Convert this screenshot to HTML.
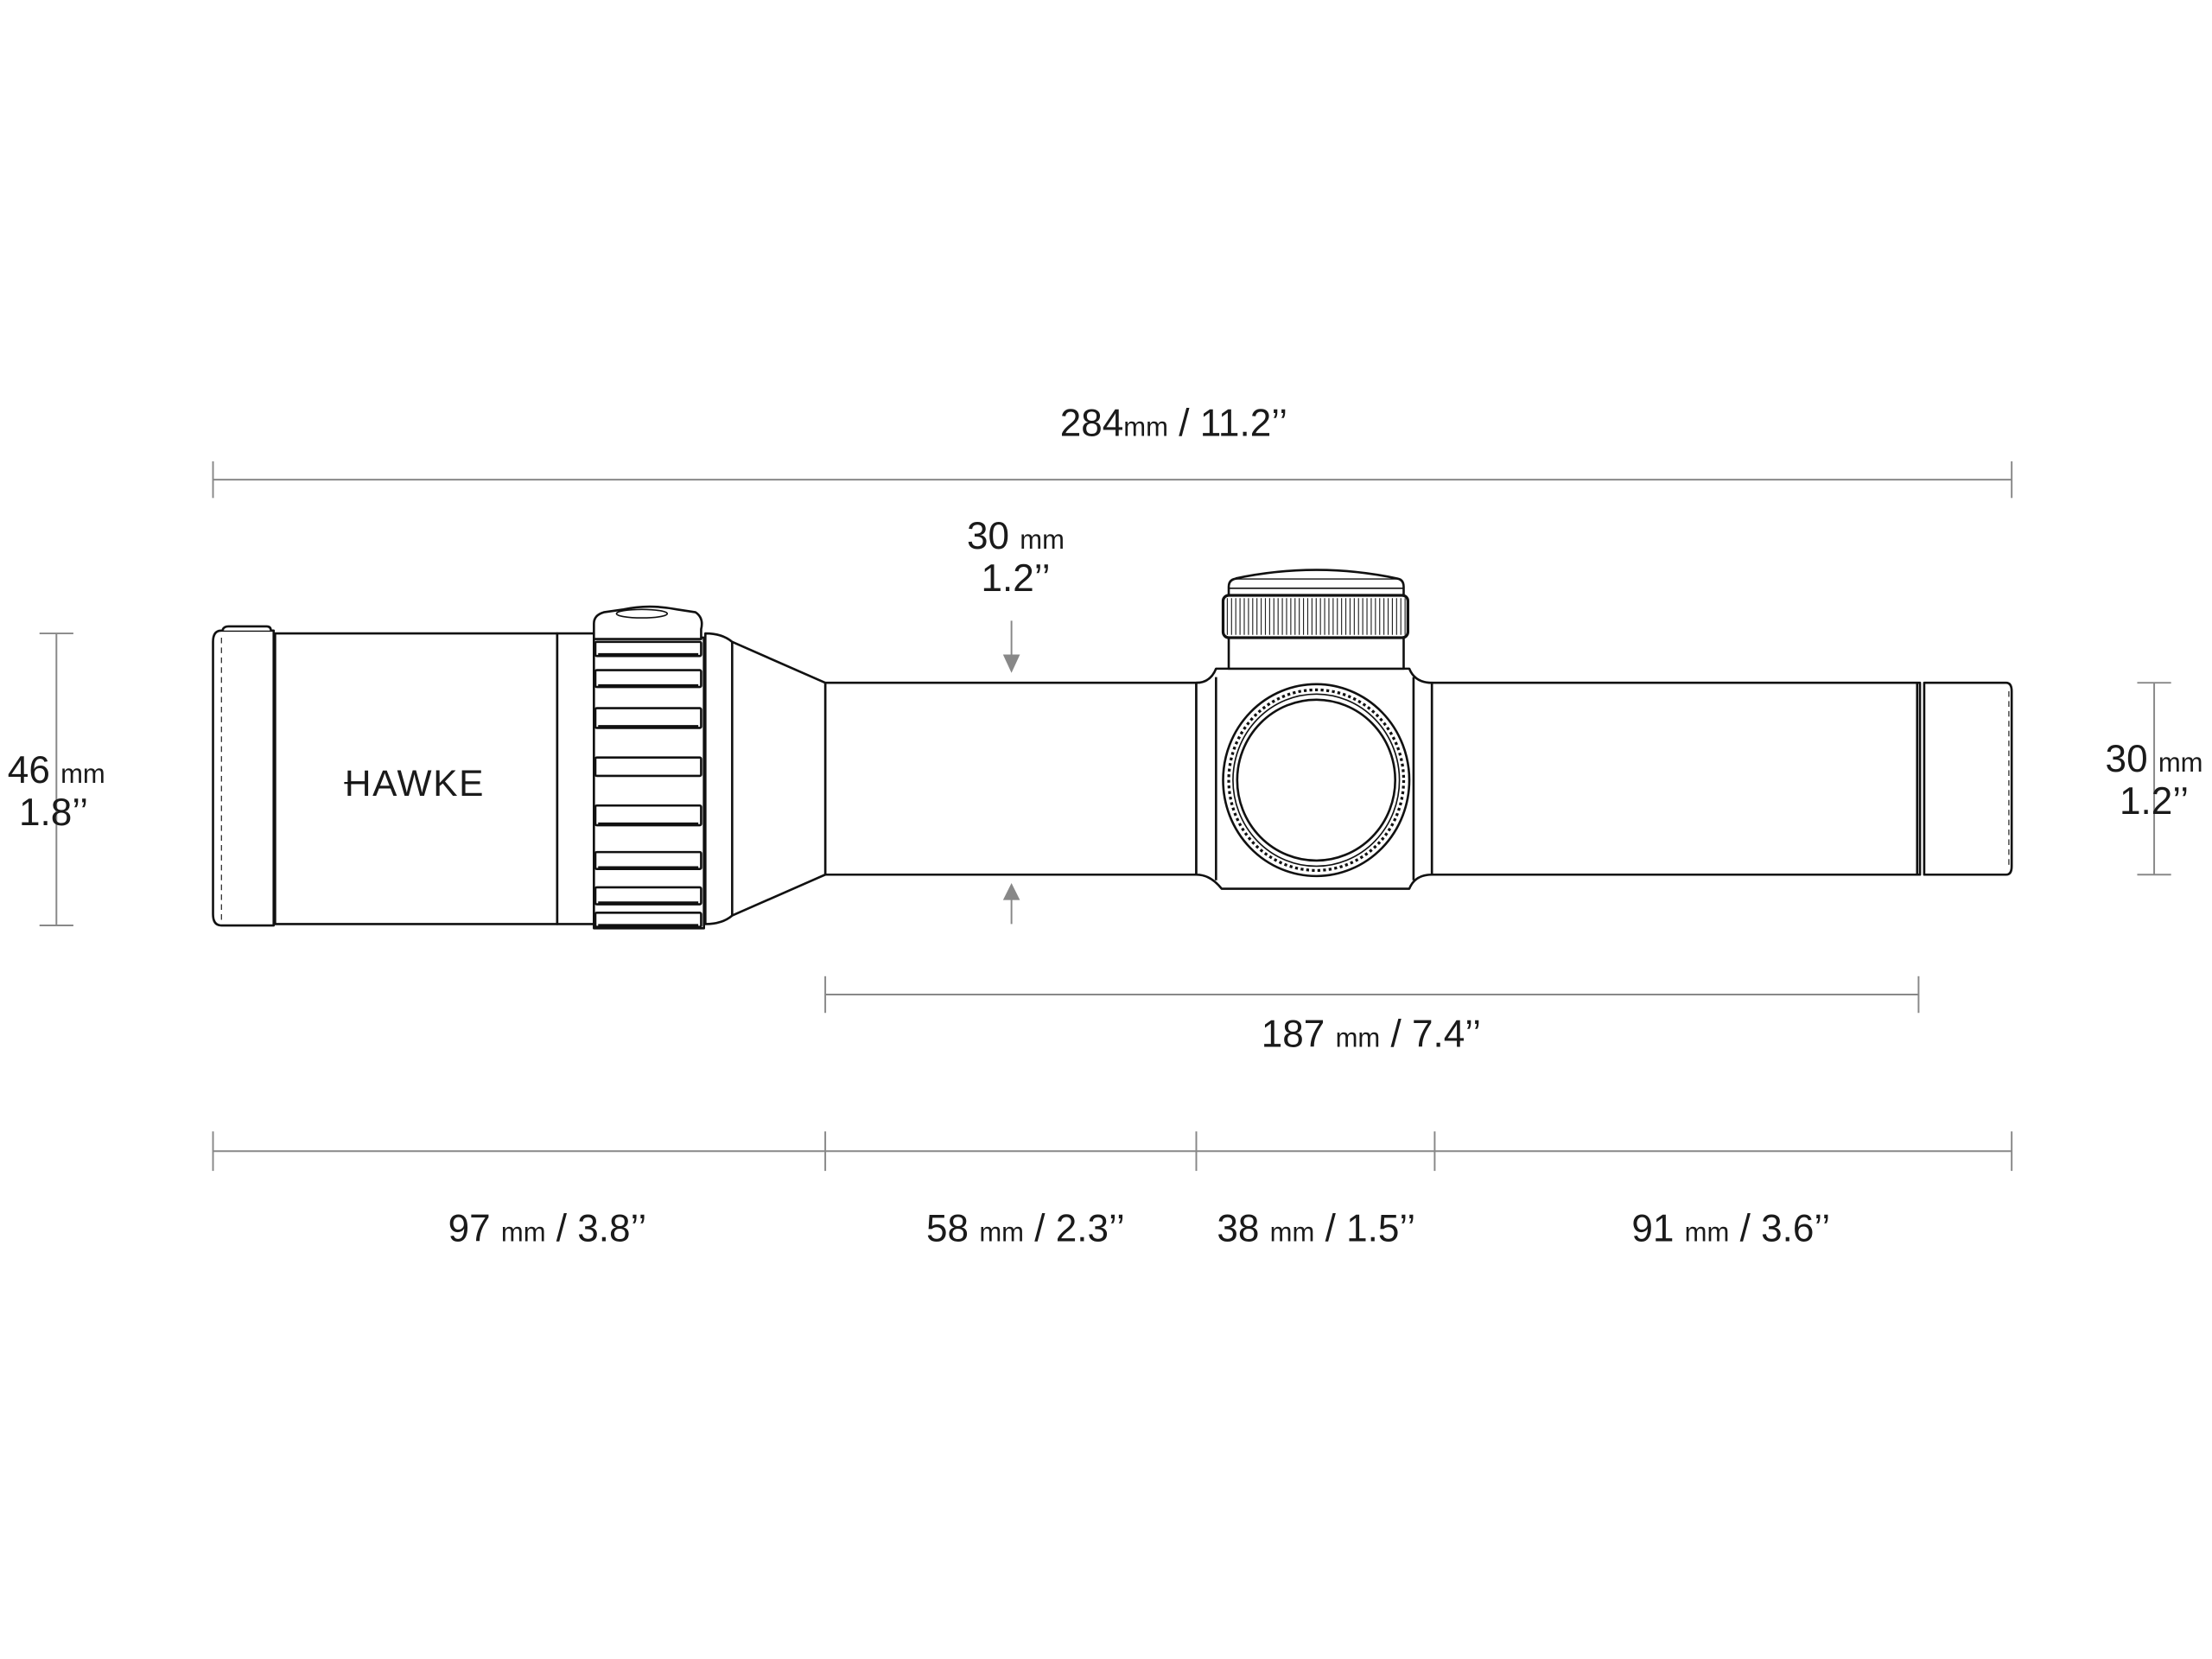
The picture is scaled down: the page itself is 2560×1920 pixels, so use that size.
<!DOCTYPE html>
<html><head><meta charset="utf-8"><style>
html,body{margin:0;padding:0;background:#fff;}
svg{display:block;}
text{font-family:"Liberation Sans Narrow","Liberation Sans",sans-serif;fill:#1a1a1a;}
.d{stroke:#888;stroke-width:1.2;fill:none;}
.o{stroke:#111;stroke-width:1.6;fill:#fff;stroke-linejoin:round;}
.t{stroke:#111;stroke-width:1;fill:none;}
</style></head><body>
<svg width="2560" height="1920" viewBox="0 0 1568 1176" xmlns="http://www.w3.org/2000/svg">
<!-- dimension lines -->
<g class="d">
<line x1="151" y1="340" x2="1426" y2="340"/><line x1="151" y1="327" x2="151" y2="353"/><line x1="1426" y1="327" x2="1426" y2="353"/>
<line x1="40" y1="449" x2="40" y2="656"/><line x1="28" y1="449" x2="52" y2="449"/><line x1="28" y1="656" x2="52" y2="656"/>
<line x1="1527" y1="484" x2="1527" y2="620"/><line x1="1515" y1="484" x2="1539" y2="484"/><line x1="1515" y1="620" x2="1539" y2="620"/>
<line x1="585" y1="705" x2="1360" y2="705"/><line x1="585" y1="692" x2="585" y2="718"/><line x1="1360" y1="692" x2="1360" y2="718"/>
<line x1="151" y1="816" x2="1426" y2="816"/>
<line x1="151" y1="802" x2="151" y2="830"/><line x1="585" y1="802" x2="585" y2="830"/><line x1="848" y1="802" x2="848" y2="830"/><line x1="1017" y1="802" x2="1017" y2="830"/><line x1="1426" y1="802" x2="1426" y2="830"/>
<line x1="717" y1="440" x2="717" y2="468"/><line x1="717" y1="636" x2="717" y2="655"/>
</g>
<polygon points="711,464 723,464 717,477" fill="#888"/>
<polygon points="711,638 723,638 717,626" fill="#888"/>

<!-- texts -->
<g font-size="27">
<text x="832" y="309" text-anchor="middle">284<tspan font-size="19">mm</tspan> / 11.2’’</text>
<text x="720" y="389" text-anchor="middle">30 <tspan font-size="19">mm</tspan></text>
<text x="720" y="419" text-anchor="middle">1.2’’</text>
<text x="40" y="555" text-anchor="middle">46 <tspan font-size="19">mm</tspan></text>
<text x="38" y="585" text-anchor="middle">1.8’’</text>
<text x="1527" y="547" text-anchor="middle">30 <tspan font-size="19">mm</tspan></text>
<text x="1527" y="577" text-anchor="middle">1.2’’</text>
<text x="972" y="742" text-anchor="middle">187 <tspan font-size="19">mm</tspan> / 7.4’’</text>
<text x="388" y="880" text-anchor="middle">97 <tspan font-size="19">mm</tspan> / 3.8’’</text>
<text x="727" y="880" text-anchor="middle">58 <tspan font-size="19">mm</tspan> / 2.3’’</text>
<text x="933" y="880" text-anchor="middle">38 <tspan font-size="19">mm</tspan> / 1.5’’</text>
<text x="1227" y="880" text-anchor="middle">91 <tspan font-size="19">mm</tspan> / 3.6’’</text>
</g>

<!-- scope -->
<!-- tube -->
<rect class="o" x="585" y="484" width="265" height="136"/>
<rect class="o" x="1015" y="484" width="346" height="136"/>
<!-- eyepiece -->
<line class="o" x1="1359" y1="484" x2="1359" y2="620"/>
<path class="o" d="M1364 484 H1422 Q1426 484 1426 490 V614 Q1426 620 1422 620 H1364 Z"/>
<line x1="1424" y1="490" x2="1424" y2="614" stroke="#333" stroke-width="0.8" stroke-dasharray="4,3"/>
<!-- cone -->
<path class="o" d="M500 449 Q512 449 519 455 L585 484 V620 L519 649 Q512 655 500 655 Z"/>
<line class="o" x1="519" y1="455" x2="519" y2="649"/>
<!-- objective body -->
<rect class="o" x="195" y="449" width="200" height="206"/>
<rect class="o" x="395" y="449" width="26" height="206"/>
<!-- cap -->
<path class="o" d="M157 447 H194 V656 H157 Q151 656 151 648 V455 Q151 447 157 447 Z"/>
<path class="o" d="M158 447 V446 Q159 444 162 444 H189 Q192 444 192 447"/>
<line x1="157" y1="452" x2="157" y2="652" stroke="#333" stroke-width="0.8" stroke-dasharray="4,3"/>
<!-- turret ring -->
<rect class="o" x="421" y="452" width="78" height="206"/>
<path class="o" d="M421 453 V442 Q421 436 428 434 L442 432 Q460 428 480 432 L493 434 Q499 438 497 446 V453 Z"/>
<ellipse class="t" cx="455" cy="435" rx="18" ry="3"/>
<g class="o">
<rect x="422" y="455" width="75" height="10" rx="1"/>
<rect x="422" y="475" width="75" height="12" rx="1"/>
<rect x="422" y="502" width="75" height="14" rx="1"/>
<rect x="422" y="537" width="75" height="13" rx="1"/>
<rect x="422" y="571" width="75" height="14" rx="1"/>
<rect x="422" y="604" width="75" height="12" rx="1"/>
<rect x="422" y="629" width="75" height="12" rx="1"/>
<rect x="422" y="647" width="75" height="10" rx="1"/>
</g>
<g stroke="#111" stroke-width="2">
<line x1="424" y1="464" x2="495" y2="464"/><line x1="424" y1="486" x2="495" y2="486"/><line x1="424" y1="515" x2="495" y2="515"/><line x1="424" y1="584" x2="495" y2="584"/><line x1="424" y1="615" x2="495" y2="615"/><line x1="424" y1="640" x2="495" y2="640"/><line x1="424" y1="656" x2="495" y2="656"/>
</g>
<!-- HAWKE -->
<text x="294" y="564" text-anchor="middle" font-size="26" letter-spacing="1" style="font-family:'Liberation Sans Narrow','Liberation Sans',sans-serif;font-weight:normal">HAWKE</text>
<line x1="244" y1="555" x2="256" y2="555" stroke="#111" stroke-width="1.4"/>

<!-- saddle -->
<line class="o" x1="848" y1="484" x2="848" y2="620"/>
<path class="o" d="M848 484 Q858 484 862 474 H999 Q1003 484 1015 484 V620 Q1003 620 999 630 H866 Q858 620 848 620 Z"/>
<line class="o" x1="862" y1="480" x2="862" y2="624"/>
<line class="o" x1="1002" y1="480" x2="1002" y2="624"/>
<!-- turret -->
<rect class="o" x="871" y="430" width="124" height="44"/>
<path class="o" d="M871 426 V416 Q871 410 878 410 H989 Q995 410 995 416 V426 Z"/>
<path class="o" d="M876 410 Q933 398 990 410"/>
<line class="t" x1="871" y1="417" x2="995" y2="417"/>
<rect x="867" y="422" width="131" height="30" rx="4" fill="#fff" stroke="#111" stroke-width="2"/>
<g stroke="#222" stroke-width="0.7">
<path d="M870 424V450M873 424V450M876 424V450M879 424V450M882 424V450M885 424V450M888 424V450M891 424V450M894 424V450M897 424V450M900 424V450M903 424V450M906 424V450M909 424V450M912 424V450M915 424V450M918 424V450M921 424V450M924 424V450M927 424V450M930 424V450M933 424V450M936 424V450M939 424V450M942 424V450M945 424V450M948 424V450M951 424V450M954 424V450M957 424V450M960 424V450M963 424V450M966 424V450M969 424V450M972 424V450M975 424V450M978 424V450M981 424V450M984 424V450M987 424V450M990 424V450M993 424V450M996 424V450"/>
</g>
<!-- window -->
<ellipse cx="933" cy="553" rx="66" ry="68" fill="#fff" stroke="#111" stroke-width="1.6"/>
<ellipse cx="933" cy="553" rx="62" ry="64" fill="none" stroke="#111" stroke-width="2" stroke-dasharray="2,2"/>
<ellipse cx="933" cy="553" rx="59" ry="61" fill="none" stroke="#111" stroke-width="1"/>
<ellipse cx="933" cy="553" rx="56" ry="57" fill="#fff" stroke="#111" stroke-width="1.6"/>
</svg>
</body></html>
